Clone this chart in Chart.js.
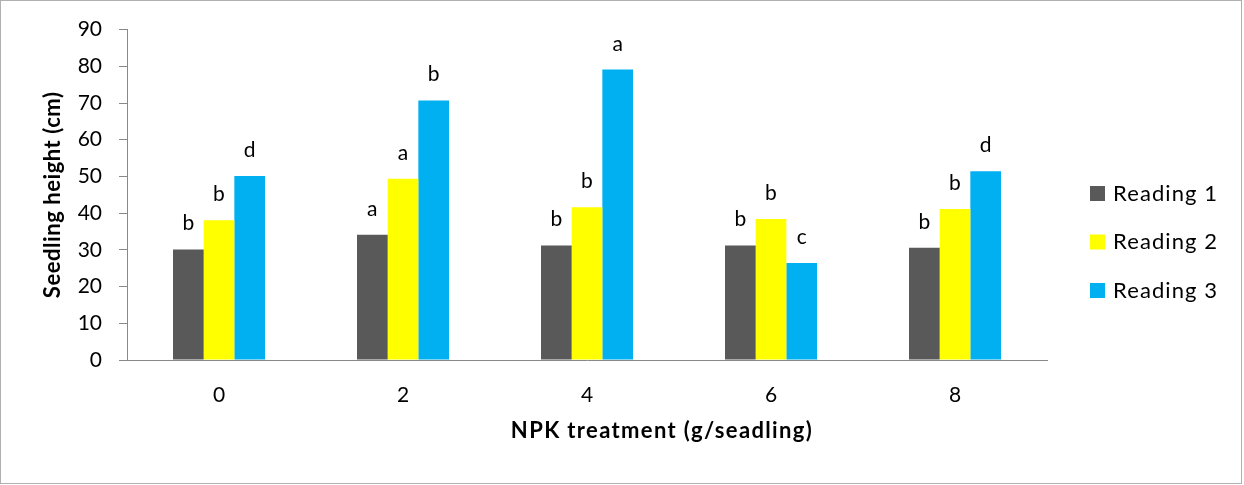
<!DOCTYPE html>
<html>
<head>
<meta charset="utf-8">
<script src="https://cdn.jsdelivr.net/npm/chart.js@4"></script>
<style>
  html, body { margin: 0; padding: 0; background: #ffffff; }
  #wrap { width: 1244px; height: 485px; }
</style>
</head>
<body>
<div id="wrap"><canvas id="chart" width="1244" height="485"></canvas></div>
<script>
// NPK treatment levels (g/seedling)
const categories = ['0', '2', '4', '6', '8'];

// Seedling height (cm) per reading
const reading1 = [30.1, 34.1, 31.2, 31.2, 30.6];
const reading2 = [38.1, 49.4, 41.6, 38.4, 41.1];
const reading3 = [50.1, 70.7, 79.1, 26.4, 51.4];

// Mean-separation letters shown above each bar
const letters1 = ['b', 'a', 'b', 'b', 'b'];
const letters2 = ['b', 'a', 'b', 'b', 'b'];
const letters3 = ['d', 'b', 'a', 'c', 'd'];

const seriesNames = ['Reading 1', 'Reading 2', 'Reading 3'];
const seriesColors = ['#595959', '#FFFF00', '#00B0F0'];

// y-axis ticks
const yMin = 0;
const yMax = 90;
const yStep = 10;

const FONT = 'Lato, "Open Sans", sans-serif';
const AXIS_GRAY = '#898989';

const lettersBySeries = [letters1, letters2, letters3];

// Page background, frame, axis titles, letters and legend
const decorations = {
  id: 'decorations',
  beforeDraw(chart) {
    const ctx = chart.ctx;
    ctx.save();
    ctx.fillStyle = '#ffffff';
    ctx.fillRect(0, 0, chart.width, chart.height);
    ctx.restore();
  },
  afterDatasetsDraw(chart) {
    const ctx = chart.ctx;
    ctx.save();
    ctx.fillStyle = '#000000';
    ctx.font = '21px ' + FONT;
    ctx.textAlign = 'center';
    ctx.textBaseline = 'alphabetic';
    chart.data.datasets.forEach((ds, di) => {
      const meta = chart.getDatasetMeta(di);
      meta.data.forEach((bar, i) => {
        ctx.fillText(lettersBySeries[di][i], bar.x, bar.y - 19);
      });
    });
    ctx.restore();
  },
  afterDraw(chart) {
    const ctx = chart.ctx;
    const area = chart.chartArea;
    ctx.save();

    // outer frame
    ctx.strokeStyle = '#b0b0b0';
    ctx.lineWidth = 1;
    ctx.strokeRect(0.5, 0.5, chart.width - 3, chart.height - 2);

    // axis titles
    ctx.fillStyle = '#000000';
    ctx.font = 'bold 22px ' + FONT;
    ctx.textAlign = 'center';
    ctx.textBaseline = 'alphabetic';
    ctx.letterSpacing = '1.35px';
    ctx.fillText('NPK treatment (g/seadling)', 662, 438);

    ctx.letterSpacing = '0.55px';
    ctx.translate(59.5, (area.top + area.bottom) / 2);
    ctx.rotate(-Math.PI / 2);
    ctx.fillText('Seedling height (cm)', 0, 0);
    ctx.restore();

    // legend
    ctx.save();
    ctx.font = '22px ' + FONT;
    ctx.letterSpacing = '1.1px';
    ctx.textAlign = 'left';
    ctx.textBaseline = 'middle';
    chart.data.datasets.forEach((ds, di) => {
      const cy = 193.5 + di * 48.5;
      ctx.fillStyle = ds.backgroundColor;
      ctx.fillRect(1090, cy - 7.5, 15, 15);
      ctx.fillStyle = '#000000';
      ctx.fillText(ds.label, 1113, cy);
    });
    ctx.restore();
  }
};

const datasets = [reading1, reading2, reading3].map((values, i) => ({
  label: seriesNames[i],
  data: values,
  backgroundColor: seriesColors[i],
  borderWidth: 0,
  categoryPercentage: 0.5,
  barPercentage: 1.0
}));

new Chart(document.getElementById('chart'), {
  type: 'bar',
  data: { labels: categories, datasets },
  options: {
    responsive: false,
    devicePixelRatio: 1,
    animation: false,
    layout: { padding: { left: 0, right: 197, top: 29, bottom: 0 } },
    plugins: {
      legend: { display: false },
      tooltip: { enabled: false },
      title: { display: false }
    },
    scales: {
      x: {
        grid: { display: false, drawTicks: false },
        border: { display: true, color: AXIS_GRAY, width: 1 },
        ticks: {
          color: '#000000',
          font: { family: FONT, size: 21 },
          padding: 23,
          maxRotation: 0
        },
        afterFit(scale) { scale.height = 125; }
      },
      y: {
        min: yMin,
        max: yMax,
        grid: {
          drawOnChartArea: false,
          drawTicks: true,
          tickLength: 8,
          color: AXIS_GRAY
        },
        border: { display: true, color: AXIS_GRAY, width: 1 },
        ticks: {
          stepSize: yStep,
          color: '#000000',
          font: { family: FONT, size: 21 },
          padding: 17
        },
        afterFit(scale) { scale.width = 127; }
      }
    }
  },
  plugins: [decorations]
});
</script>
</body>
</html>
